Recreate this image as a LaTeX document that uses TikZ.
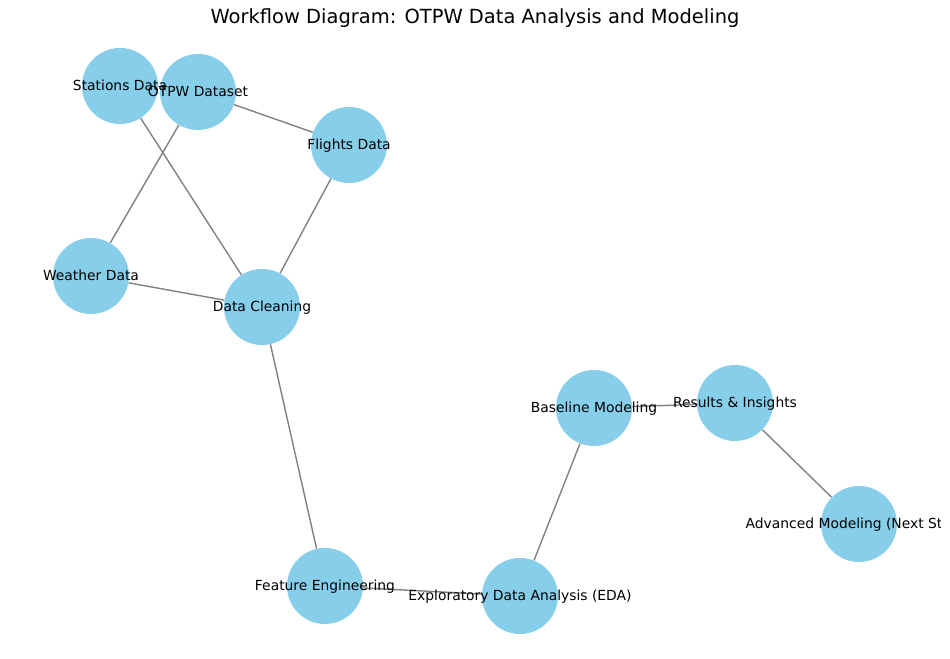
\documentclass[tikz,border=0pt]{standalone}
\usepackage{fontspec}
\setmainfont{DejaVu Sans}
\usetikzlibrary{backgrounds}
\definecolor{skyblue}{HTML}{87CEEB}
\definecolor{edgegray}{HTML}{808080}
\tikzset{
  wnode/.style={circle, fill=skyblue, minimum size=57pt, inner sep=0pt},
  wlabel/.style={font=\fontsize{10.4pt}{12pt}\selectfont, inner sep=0pt, text=black, text height=0.73em, text depth=0pt},
  wedge/.style={draw=edgegray, line width=1.04pt},
}
\begin{document}
\begin{tikzpicture}[x=0.75pt, y=0.75pt]
\useasboundingbox (0,0) rectangle (950,659);
% circles
\node[wnode] (st) at (120,573) {};
\node[wnode] (ot) at (198,567) {};
\node[wnode] (fl) at (349,514) {};
\node[wnode] (we) at (91,383) {};
\node[wnode] (dc) at (262,352) {};
\node[wnode] (fe) at (325,73) {};
\node[wnode] (ed) at (520,63) {};
\node[wnode] (bm) at (594,251) {};
\node[wnode] (ri) at (735,256) {};
\node[wnode] (am) at (859,135) {};
% edges
\begin{scope}[on background layer]
\draw[wedge] (ot) -- (fl);
\draw[wedge] (ot) -- (we);
\draw[wedge] (st) -- (dc);
\draw[wedge] (fl) -- (dc);
\draw[wedge] (we) -- (dc);
\draw[wedge] (dc) -- (fe);
\draw[wedge] (fe) -- (ed);
\draw[wedge] (ed) -- (bm);
\draw[wedge] (bm) -- (ri);
\draw[wedge] (ri) -- (am);
\end{scope}
% labels
\node[wlabel] (lst) at (st.center) {Stations Data};
\node[wlabel] (lot) at (ot.center) {OTPW Dataset};
\node[wlabel] (lfl) at (fl.center) {Flights Data};
\node[wlabel] (lwe) at (we.center) {Weather Data};
\node[wlabel] (ldc) at (dc.center) {Data Cleaning};
\node[wlabel] (lfe) at (fe.center) {Feature Engineering};
\node[wlabel] (led) at (ed.center) {Exploratory Data Analysis (EDA)};
\node[wlabel] (lbm) at (bm.center) {Baseline Modeling};
\node[wlabel] (lri) at (ri.center) {Results \& Insights};
\begin{scope}
\clip (0,0) rectangle (940,659);
\node[wlabel] (lam) at (am.center) {Advanced Modeling (Next Steps)};
\end{scope}
% title
\node[font=\fontsize{14.6pt}{17pt}\selectfont, inner sep=0pt, text height=0.73em, text depth=0pt] (title) at (475,640) {Workflow Diagram: OTPW Data Analysis and Modeling};
\end{tikzpicture}
\end{document}
